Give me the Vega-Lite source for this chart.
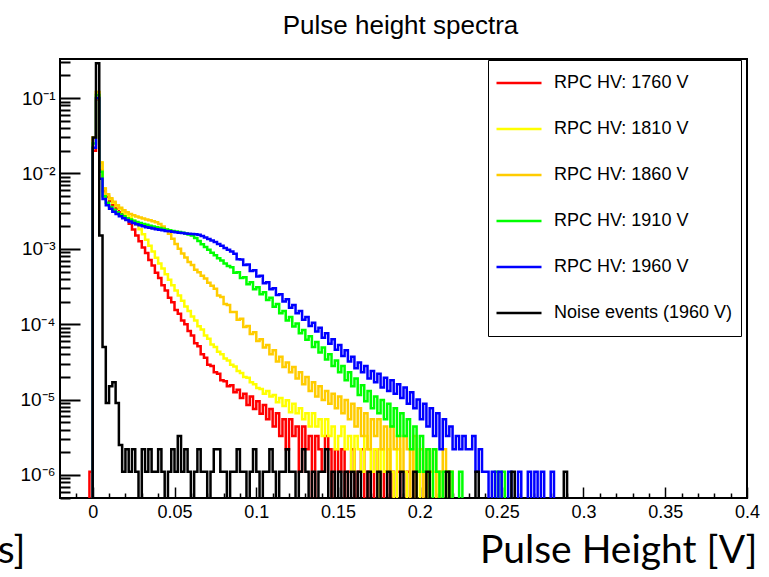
{
  "$schema": "https://vega.github.io/schema/vega-lite/v6.json",
  "autosize": {"type": "none"},
  "width": 687,
  "height": 439,
  "padding": {"left": 60, "top": 59, "right": 22, "bottom": 79},
  "background": "white",
  "config": {
    "view": {"stroke": "black", "strokeWidth": 2},
    "font": "Liberation Sans"
  },
  "title": {"text": "Pulse height spectra", "font": "Liberation Sans", "fontSize": 26, "fontWeight": "normal", "color": "black", "offset": 20, "anchor": "middle", "dx": -3},
  "datasets": {
    "names": [
      {"k": "r", "series": "RPC HV: 1760 V"},
      {"k": "y", "series": "RPC HV: 1810 V"},
      {"k": "o", "series": "RPC HV: 1860 V"},
      {"k": "g", "series": "RPC HV: 1910 V"},
      {"k": "b", "series": "RPC HV: 1960 V"},
      {"k": "n", "series": "Noise events (1960 V)"}
    ],
    "spectra": [
      {"x": -0.003, "r": 1e-7, "y": 1e-7, "o": 1e-7, "g": 1e-7, "b": 1e-7, "n": 1e-7},
      {"x": -0.001, "r": 1.1e-6, "y": 1e-7, "o": 1e-7, "g": 1e-7, "b": 1e-7, "n": 1e-7},
      {"x": 0.001, "r": 0.02, "y": 0.03, "o": 0.03, "g": 0.025, "b": 0.022, "n": 0.03},
      {"x": 0.003, "r": 0.095, "y": 0.12, "o": 0.12, "g": 0.11, "b": 0.1, "n": 0.29},
      {"x": 0.005, "r": 0.011, "y": 0.014, "o": 0.014, "g": 0.0105, "b": 0.0085, "n": 0.0015},
      {"x": 0.007, "r": 5.8e-3, "y": 6.3e-3, "o": 6.3e-3, "g": 5e-3, "b": 4.6e-3, "n": 5e-5},
      {"x": 0.009, "r": 4.9e-3, "y": 5.2e-3, "o": 5.3e-3, "g": 4.1e-3, "b": 3.8e-3, "n": 9e-6},
      {"x": 0.011, "r": 4.3e-3, "y": 4.6e-3, "o": 4.7e-3, "g": 3.6e-3, "b": 3.4e-3, "n": 1.5e-5},
      {"x": 0.013, "r": 3.8e-3, "y": 4.1e-3, "o": 4.2e-3, "g": 3.3e-3, "b": 3.1e-3, "n": 1.7e-5},
      {"x": 0.015, "r": 3.4e-3, "y": 3.7e-3, "o": 3.8e-3, "g": 3.05e-3, "b": 2.9e-3, "n": 9e-6},
      {"x": 0.017, "r": 3.05e-3, "y": 3.4e-3, "o": 3.5e-3, "g": 2.85e-3, "b": 2.7e-3, "n": 2.5e-6},
      {"x": 0.019, "r": 2.75e-3, "y": 3.1e-3, "o": 3.25e-3, "g": 2.7e-3, "b": 2.55e-3, "n": 1.1e-6},
      {"x": 0.021, "r": 2.45e-3, "y": 2.85e-3, "o": 3.05e-3, "g": 2.55e-3, "b": 2.42e-3, "n": 2.2e-6},
      {"x": 0.023, "r": 2.15e-3, "y": 2.6e-3, "o": 2.9e-3, "g": 2.45e-3, "b": 2.3e-3, "n": 1.1e-6},
      {"x": 0.025, "r": 1.8e-3, "y": 2.35e-3, "o": 2.78e-3, "g": 2.35e-3, "b": 2.2e-3, "n": 2.2e-6},
      {"x": 0.027, "r": 1.5e-3, "y": 2.1e-3, "o": 2.68e-3, "g": 2.27e-3, "b": 2.12e-3, "n": 1.1e-6},
      {"x": 0.029, "r": 1.26e-3, "y": 1.82e-3, "o": 2.6e-3, "g": 2.2e-3, "b": 2.05e-3, "n": 1e-7},
      {"x": 0.031, "r": 1.04e-3, "y": 1.56e-3, "o": 2.52e-3, "g": 2.14e-3, "b": 1.99e-3, "n": 2.2e-6},
      {"x": 0.033, "r": 8.8e-4, "y": 1.32e-3, "o": 2.46e-3, "g": 2.08e-3, "b": 1.94e-3, "n": 1.1e-6},
      {"x": 0.035, "r": 7.1e-4, "y": 1.1e-3, "o": 2.4e-3, "g": 2.03e-3, "b": 1.9e-3, "n": 2.2e-6},
      {"x": 0.037, "r": 6e-4, "y": 9.2e-4, "o": 2.33e-3, "g": 1.98e-3, "b": 1.86e-3, "n": 1.1e-6},
      {"x": 0.039, "r": 4.8e-4, "y": 7.6e-4, "o": 2.25e-3, "g": 1.93e-3, "b": 1.82e-3, "n": 1.1e-6},
      {"x": 0.041, "r": 4.1e-4, "y": 6.4e-4, "o": 2.14e-3, "g": 1.89e-3, "b": 1.79e-3, "n": 2.2e-6},
      {"x": 0.043, "r": 3.3e-4, "y": 5.5e-4, "o": 1.98e-3, "g": 1.85e-3, "b": 1.76e-3, "n": 1.1e-6},
      {"x": 0.045, "r": 2.8e-4, "y": 4.6e-4, "o": 1.8e-3, "g": 1.81e-3, "b": 1.73e-3, "n": 1e-7},
      {"x": 0.047, "r": 2.25e-4, "y": 3.9e-4, "o": 1.58e-3, "g": 1.77e-3, "b": 1.71e-3, "n": 1.1e-6},
      {"x": 0.049, "r": 1.95e-4, "y": 3.3e-4, "o": 1.36e-3, "g": 1.73e-3, "b": 1.68e-3, "n": 2.2e-6},
      {"x": 0.051, "r": 1.55e-4, "y": 2.8e-4, "o": 1.16e-3, "g": 1.7e-3, "b": 1.66e-3, "n": 1.1e-6},
      {"x": 0.053, "r": 1.38e-4, "y": 2.4e-4, "o": 1e-3, "g": 1.67e-3, "b": 1.64e-3, "n": 3.3e-6},
      {"x": 0.055, "r": 1.12e-4, "y": 2.05e-4, "o": 8.7e-4, "g": 1.63e-3, "b": 1.62e-3, "n": 1.1e-6},
      {"x": 0.057, "r": 1e-4, "y": 1.72e-4, "o": 7.7e-4, "g": 1.6e-3, "b": 1.6e-3, "n": 2.2e-6},
      {"x": 0.059, "r": 8.1e-5, "y": 1.5e-4, "o": 6.7e-4, "g": 1.55e-3, "b": 1.59e-3, "n": 1.1e-6},
      {"x": 0.061, "r": 7.1e-5, "y": 1.27e-4, "o": 6.1e-4, "g": 1.5e-3, "b": 1.57e-3, "n": 1e-7},
      {"x": 0.063, "r": 5.6e-5, "y": 1.12e-4, "o": 5.3e-4, "g": 1.39e-3, "b": 1.56e-3, "n": 1.1e-6},
      {"x": 0.065, "r": 5.1e-5, "y": 9.4e-5, "o": 4.9e-4, "g": 1.27e-3, "b": 1.54e-3, "n": 2.2e-6},
      {"x": 0.067, "r": 4e-5, "y": 8.5e-5, "o": 4.4e-4, "g": 1.15e-3, "b": 1.48e-3, "n": 1.1e-6},
      {"x": 0.069, "r": 3.6e-5, "y": 7.1e-5, "o": 4.05e-4, "g": 1.06e-3, "b": 1.41e-3, "n": 1.1e-6},
      {"x": 0.071, "r": 2.9e-5, "y": 6.4e-5, "o": 3.55e-4, "g": 9.7e-4, "b": 1.35e-3, "n": 1e-7},
      {"x": 0.073, "r": 2.8e-5, "y": 5.4e-5, "o": 3.25e-4, "g": 8.9e-4, "b": 1.29e-3, "n": 1.1e-6},
      {"x": 0.075, "r": 2.3e-5, "y": 5e-5, "o": 2.95e-4, "g": 8.2e-4, "b": 1.23e-3, "n": 2.2e-6},
      {"x": 0.077, "r": 2.2e-5, "y": 4.3e-5, "o": 2.4e-4, "g": 7.5e-4, "b": 1.16e-3, "n": 2.2e-6},
      {"x": 0.079, "r": 1.8e-5, "y": 4e-5, "o": 2.3e-4, "g": 7e-4, "b": 1.1e-3, "n": 1.1e-6},
      {"x": 0.081, "r": 1.75e-5, "y": 3.5e-5, "o": 1.85e-4, "g": 6.4e-4, "b": 1.03e-3, "n": 1.1e-6},
      {"x": 0.083, "r": 1.5e-5, "y": 3.3e-5, "o": 1.8e-4, "g": 5.9e-4, "b": 9.7e-4, "n": 1e-7},
      {"x": 0.085, "r": 1.55e-5, "y": 2.9e-5, "o": 1.45e-4, "g": 5.7e-4, "b": 9.2e-4, "n": 1.1e-6},
      {"x": 0.087, "r": 1.25e-5, "y": 2.75e-5, "o": 1.45e-4, "g": 4.8e-4, "b": 8.6e-4, "n": 1.1e-6},
      {"x": 0.089, "r": 1.35e-5, "y": 2.4e-5, "o": 1.15e-4, "g": 4.9e-4, "b": 7.3e-4, "n": 2.2e-6},
      {"x": 0.091, "r": 1.05e-5, "y": 2.25e-5, "o": 1.18e-4, "g": 4.1e-4, "b": 7.2e-4, "n": 1.1e-6},
      {"x": 0.093, "r": 1.2e-5, "y": 2e-5, "o": 9.2e-5, "g": 4.2e-4, "b": 6.1e-4, "n": 1.1e-6},
      {"x": 0.095, "r": 8.5e-6, "y": 1.95e-5, "o": 9.5e-5, "g": 3.4e-4, "b": 6.2e-4, "n": 1e-7},
      {"x": 0.097, "r": 1.1e-5, "y": 1.7e-5, "o": 7.4e-5, "g": 3.6e-4, "b": 5.1e-4, "n": 1.1e-6},
      {"x": 0.099, "r": 7.5e-6, "y": 1.6e-5, "o": 7.8e-5, "g": 2.9e-4, "b": 5.2e-4, "n": 2.2e-6},
      {"x": 0.101, "r": 9.5e-6, "y": 1.42e-5, "o": 6e-5, "g": 3.1e-4, "b": 4.3e-4, "n": 1.1e-6},
      {"x": 0.103, "r": 6.5e-6, "y": 1.38e-5, "o": 6.3e-5, "g": 2.5e-4, "b": 4.4e-4, "n": 1e-7},
      {"x": 0.105, "r": 8.5e-6, "y": 1.2e-5, "o": 4.9e-5, "g": 2.65e-4, "b": 3.5e-4, "n": 1.1e-6},
      {"x": 0.107, "r": 5.5e-6, "y": 1.3e-5, "o": 5.3e-5, "g": 2.1e-4, "b": 3.6e-4, "n": 1.1e-6},
      {"x": 0.109, "r": 7.5e-6, "y": 1.1e-5, "o": 4e-5, "g": 2.25e-4, "b": 2.9e-4, "n": 2.2e-6},
      {"x": 0.111, "r": 4.4e-6, "y": 1.15e-5, "o": 4.5e-5, "g": 1.7e-4, "b": 3e-4, "n": 1.1e-6},
      {"x": 0.113, "r": 6.6e-6, "y": 9.2e-6, "o": 3.2e-5, "g": 1.85e-4, "b": 2.45e-4, "n": 1e-7},
      {"x": 0.115, "r": 3.3e-6, "y": 1.05e-5, "o": 3.7e-5, "g": 1.4e-4, "b": 2.5e-4, "n": 1.1e-6},
      {"x": 0.117, "r": 5.5e-6, "y": 8.2e-6, "o": 2.7e-5, "g": 1.5e-4, "b": 2e-4, "n": 1.1e-6},
      {"x": 0.119, "r": 2.2e-6, "y": 9.8e-6, "o": 3.1e-5, "g": 1.12e-4, "b": 2.15e-4, "n": 2.2e-6},
      {"x": 0.121, "r": 5.5e-6, "y": 6.8e-6, "o": 2.3e-5, "g": 1.25e-4, "b": 1.65e-4, "n": 1.1e-6},
      {"x": 0.123, "r": 3.3e-6, "y": 8.8e-6, "o": 2.7e-5, "g": 9.3e-5, "b": 1.8e-4, "n": 1.1e-6},
      {"x": 0.125, "r": 4.4e-6, "y": 6.6e-6, "o": 1.9e-5, "g": 1.02e-4, "b": 1.4e-4, "n": 1e-7},
      {"x": 0.127, "r": 1.1e-6, "y": 7.7e-6, "o": 2.3e-5, "g": 7.6e-5, "b": 1.5e-4, "n": 1.1e-6},
      {"x": 0.129, "r": 4.4e-6, "y": 5.5e-6, "o": 1.6e-5, "g": 8.4e-5, "b": 1.15e-4, "n": 2.2e-6},
      {"x": 0.131, "r": 2.2e-6, "y": 6.6e-6, "o": 2e-5, "g": 6.2e-5, "b": 1.25e-4, "n": 1.1e-6},
      {"x": 0.133, "r": 3.3e-6, "y": 4.4e-6, "o": 1.3e-5, "g": 6.9e-5, "b": 9.5e-5, "n": 1e-7},
      {"x": 0.135, "r": 1e-7, "y": 6.6e-6, "o": 1.7e-5, "g": 5e-5, "b": 1.05e-4, "n": 1.1e-6},
      {"x": 0.137, "r": 3.3e-6, "y": 4.4e-6, "o": 1.1e-5, "g": 5.8e-5, "b": 8e-5, "n": 1e-7},
      {"x": 0.139, "r": 2.2e-6, "y": 5.5e-6, "o": 1.5e-5, "g": 4.2e-5, "b": 9e-5, "n": 1.1e-6},
      {"x": 0.141, "r": 1.1e-6, "y": 3.3e-6, "o": 9.9e-6, "g": 4.9e-5, "b": 6.6e-5, "n": 1.1e-6},
      {"x": 0.143, "r": 3.3e-6, "y": 5.5e-6, "o": 1.3e-5, "g": 3.4e-5, "b": 7.6e-5, "n": 2.2e-6},
      {"x": 0.145, "r": 2.2e-6, "y": 3.3e-6, "o": 8.8e-6, "g": 4e-5, "b": 5.5e-5, "n": 1e-7},
      {"x": 0.147, "r": 1e-7, "y": 4.4e-6, "o": 1.2e-5, "g": 2.8e-5, "b": 6.3e-5, "n": 1.1e-6},
      {"x": 0.149, "r": 2.2e-6, "y": 2.2e-6, "o": 7.7e-6, "g": 3.3e-5, "b": 4.6e-5, "n": 1e-7},
      {"x": 0.151, "r": 1.1e-6, "y": 3.3e-6, "o": 1.1e-5, "g": 2.3e-5, "b": 5.3e-5, "n": 1.1e-6},
      {"x": 0.153, "r": 2.2e-6, "y": 4.4e-6, "o": 6.6e-6, "g": 2.8e-5, "b": 3.8e-5, "n": 1e-7},
      {"x": 0.155, "r": 1e-7, "y": 2.2e-6, "o": 9.9e-6, "g": 1.8e-5, "b": 4.5e-5, "n": 1.1e-6},
      {"x": 0.157, "r": 1.1e-6, "y": 3.3e-6, "o": 5.5e-6, "g": 2.3e-5, "b": 3.2e-5, "n": 1e-7},
      {"x": 0.159, "r": 2.2e-6, "y": 1.1e-6, "o": 8.8e-6, "g": 1.5e-5, "b": 3.7e-5, "n": 1.1e-6},
      {"x": 0.161, "r": 1e-7, "y": 3.3e-6, "o": 4.4e-6, "g": 1.9e-5, "b": 2.6e-5, "n": 1e-7},
      {"x": 0.163, "r": 1.1e-6, "y": 2.2e-6, "o": 7.7e-6, "g": 1.15e-5, "b": 3.1e-5, "n": 1.1e-6},
      {"x": 0.165, "r": 2.2e-6, "y": 1.1e-6, "o": 3.3e-6, "g": 1.55e-5, "b": 2.3e-5, "n": 1e-7},
      {"x": 0.167, "r": 1e-7, "y": 3.3e-6, "o": 6.6e-6, "g": 9.5e-6, "b": 2.8e-5, "n": 1e-7},
      {"x": 0.169, "r": 1.1e-6, "y": 2.2e-6, "o": 2.2e-6, "g": 1.3e-5, "b": 1.9e-5, "n": 1.1e-6},
      {"x": 0.171, "r": 1e-7, "y": 1.1e-6, "o": 5.5e-6, "g": 7.7e-6, "b": 2.4e-5, "n": 1e-7},
      {"x": 0.173, "r": 2.2e-6, "y": 2.2e-6, "o": 3.3e-6, "g": 1.1e-5, "b": 1.7e-5, "n": 1e-7},
      {"x": 0.175, "r": 1.1e-6, "y": 1e-7, "o": 5.5e-6, "g": 6.6e-6, "b": 2.2e-5, "n": 1.1e-6},
      {"x": 0.177, "r": 1e-7, "y": 2.2e-6, "o": 2.2e-6, "g": 9.9e-6, "b": 1.45e-5, "n": 1e-7},
      {"x": 0.179, "r": 1.1e-6, "y": 1.1e-6, "o": 4.4e-6, "g": 5.5e-6, "b": 1.95e-5, "n": 1e-7},
      {"x": 0.181, "r": 1e-7, "y": 2.2e-6, "o": 1.1e-6, "g": 8.8e-6, "b": 1.3e-5, "n": 1.1e-6},
      {"x": 0.183, "r": 1.1e-6, "y": 1.1e-6, "o": 4.4e-6, "g": 4.4e-6, "b": 1.8e-5, "n": 1e-7},
      {"x": 0.185, "r": 1e-7, "y": 1e-7, "o": 2.2e-6, "g": 7.7e-6, "b": 1.2e-5, "n": 1e-7},
      {"x": 0.187, "r": 1.1e-6, "y": 2.2e-6, "o": 3.3e-6, "g": 3.3e-6, "b": 1.6e-5, "n": 1e-7},
      {"x": 0.189, "r": 1e-7, "y": 1.1e-6, "o": 1.1e-6, "g": 6.6e-6, "b": 1.05e-5, "n": 1.1e-6},
      {"x": 0.191, "r": 1e-7, "y": 1.1e-6, "o": 3.3e-6, "g": 3.3e-6, "b": 1.45e-5, "n": 1e-7},
      {"x": 0.193, "r": 1.1e-6, "y": 1e-7, "o": 2.2e-6, "g": 5.5e-6, "b": 8.8e-6, "n": 1e-7},
      {"x": 0.195, "r": 1e-7, "y": 2.2e-6, "o": 1e-7, "g": 2.2e-6, "b": 1.25e-5, "n": 1e-7},
      {"x": 0.197, "r": 1.1e-6, "y": 1.1e-6, "o": 3.3e-6, "g": 4.4e-6, "b": 7.7e-6, "n": 1.1e-6},
      {"x": 0.199, "r": 1e-7, "y": 1e-7, "o": 1.1e-6, "g": 1.1e-6, "b": 1e-5, "n": 1e-7},
      {"x": 0.201, "r": 1e-7, "y": 1.1e-6, "o": 2.2e-6, "g": 3.3e-6, "b": 5.5e-6, "n": 1e-7},
      {"x": 0.203, "r": 1.1e-6, "y": 1e-7, "o": 1e-7, "g": 1.1e-6, "b": 8.8e-6, "n": 1e-7},
      {"x": 0.205, "r": 1e-7, "y": 1.1e-6, "o": 2.2e-6, "g": 2.2e-6, "b": 4.4e-6, "n": 1.1e-6},
      {"x": 0.207, "r": 1e-7, "y": 1e-7, "o": 1.1e-6, "g": 1e-7, "b": 7.7e-6, "n": 1e-7},
      {"x": 0.209, "r": 1e-7, "y": 1.1e-6, "o": 2.2e-6, "g": 2.2e-6, "b": 3.3e-6, "n": 1e-7},
      {"x": 0.211, "r": 1e-7, "y": 1e-7, "o": 1e-7, "g": 1.1e-6, "b": 6.6e-6, "n": 1e-7},
      {"x": 0.213, "r": 1e-7, "y": 1.1e-6, "o": 1.1e-6, "g": 1e-7, "b": 2.2e-6, "n": 1e-7},
      {"x": 0.215, "r": 1e-7, "y": 1e-7, "o": 2.2e-6, "g": 1.1e-6, "b": 5.5e-6, "n": 1e-7},
      {"x": 0.217, "r": 1e-7, "y": 1.1e-6, "o": 1e-7, "g": 1e-7, "b": 3.3e-6, "n": 1.1e-6},
      {"x": 0.219, "r": 1e-7, "y": 1e-7, "o": 1.1e-6, "g": 1.1e-6, "b": 4.4e-6, "n": 1e-7},
      {"x": 0.221, "r": 1e-7, "y": 1e-7, "o": 1e-7, "g": 1e-7, "b": 2.2e-6, "n": 1e-7},
      {"x": 0.223, "r": 1e-7, "y": 1e-7, "o": 1e-7, "g": 1e-7, "b": 3.3e-6, "n": 1e-7},
      {"x": 0.225, "r": 1e-7, "y": 1e-7, "o": 1e-7, "g": 1.1e-6, "b": 2.2e-6, "n": 1e-7},
      {"x": 0.227, "r": 1e-7, "y": 1e-7, "o": 1e-7, "g": 1e-7, "b": 3.3e-6, "n": 1e-7},
      {"x": 0.229, "r": 1e-7, "y": 1e-7, "o": 1e-7, "g": 1e-7, "b": 2.2e-6, "n": 1e-7},
      {"x": 0.231, "r": 1e-7, "y": 1e-7, "o": 1e-7, "g": 1e-7, "b": 2.2e-6, "n": 1e-7},
      {"x": 0.233, "r": 1e-7, "y": 1e-7, "o": 1e-7, "g": 1e-7, "b": 3.3e-6, "n": 1e-7},
      {"x": 0.235, "r": 1e-7, "y": 1e-7, "o": 1e-7, "g": 1e-7, "b": 1.1e-6, "n": 1.1e-6},
      {"x": 0.237, "r": 1e-7, "y": 1e-7, "o": 1e-7, "g": 1e-7, "b": 2.2e-6, "n": 1e-7},
      {"x": 0.239, "r": 1e-7, "y": 1e-7, "o": 1e-7, "g": 1e-7, "b": 1.1e-6, "n": 1e-7},
      {"x": 0.241, "r": 1e-7, "y": 1e-7, "o": 1e-7, "g": 1e-7, "b": 1.1e-6, "n": 1e-7},
      {"x": 0.243, "r": 1e-7, "y": 1e-7, "o": 1e-7, "g": 1e-7, "b": 1e-7, "n": 1e-7},
      {"x": 0.245, "r": 1e-7, "y": 1e-7, "o": 1e-7, "g": 1e-7, "b": 1.1e-6, "n": 1e-7},
      {"x": 0.247, "r": 1e-7, "y": 1e-7, "o": 1e-7, "g": 1.1e-6, "b": 1e-7, "n": 1e-7},
      {"x": 0.249, "r": 1e-7, "y": 1e-7, "o": 1e-7, "g": 1e-7, "b": 1.1e-6, "n": 1e-7},
      {"x": 0.251, "r": 1e-7, "y": 1e-7, "o": 1e-7, "g": 1.1e-6, "b": 1e-7, "n": 1e-7},
      {"x": 0.253, "r": 1e-7, "y": 1e-7, "o": 1e-7, "g": 1e-7, "b": 1e-7, "n": 1e-7},
      {"x": 0.255, "r": 1e-7, "y": 1e-7, "o": 1e-7, "g": 1e-7, "b": 1.1e-6, "n": 1e-7},
      {"x": 0.257, "r": 1e-7, "y": 1e-7, "o": 1e-7, "g": 1e-7, "b": 1e-7, "n": 1.1e-6},
      {"x": 0.259, "r": 1e-7, "y": 1e-7, "o": 1e-7, "g": 1e-7, "b": 1e-7, "n": 1e-7},
      {"x": 0.261, "r": 1e-7, "y": 1e-7, "o": 1e-7, "g": 1e-7, "b": 1.1e-6, "n": 1e-7},
      {"x": 0.263, "r": 1e-7, "y": 1e-7, "o": 1e-7, "g": 1e-7, "b": 1e-7, "n": 1e-7},
      {"x": 0.265, "r": 1e-7, "y": 1e-7, "o": 1e-7, "g": 1e-7, "b": 1e-7, "n": 1e-7},
      {"x": 0.267, "r": 1e-7, "y": 1e-7, "o": 1e-7, "g": 1e-7, "b": 1.1e-6, "n": 1e-7},
      {"x": 0.269, "r": 1e-7, "y": 1e-7, "o": 1e-7, "g": 1e-7, "b": 1e-7, "n": 1e-7},
      {"x": 0.271, "r": 1e-7, "y": 1e-7, "o": 1e-7, "g": 1e-7, "b": 1.1e-6, "n": 1e-7},
      {"x": 0.273, "r": 1e-7, "y": 1e-7, "o": 1e-7, "g": 1e-7, "b": 1e-7, "n": 1e-7},
      {"x": 0.275, "r": 1e-7, "y": 1e-7, "o": 1e-7, "g": 1e-7, "b": 1.1e-6, "n": 1e-7},
      {"x": 0.277, "r": 1e-7, "y": 1e-7, "o": 1e-7, "g": 1e-7, "b": 1e-7, "n": 1e-7},
      {"x": 0.279, "r": 1e-7, "y": 1e-7, "o": 1e-7, "g": 1e-7, "b": 1e-7, "n": 1e-7},
      {"x": 0.281, "r": 1e-7, "y": 1e-7, "o": 1e-7, "g": 1e-7, "b": 1.1e-6, "n": 1e-7},
      {"x": 0.283, "r": 1e-7, "y": 1e-7, "o": 1e-7, "g": 1e-7, "b": 1e-7, "n": 1e-7},
      {"x": 0.285, "r": 1e-7, "y": 1e-7, "o": 1e-7, "g": 1e-7, "b": 1e-7, "n": 1e-7},
      {"x": 0.287, "r": 1e-7, "y": 1e-7, "o": 1e-7, "g": 1e-7, "b": 1e-7, "n": 1e-7},
      {"x": 0.289, "r": 1e-7, "y": 1e-7, "o": 1e-7, "g": 1e-7, "b": 1e-7, "n": 1.1e-6},
      {"x": 0.291, "r": 1e-7, "y": 1e-7, "o": 1e-7, "g": 1e-7, "b": 1e-7, "n": 1e-7}
    ]
  },
  "data": {"name": "spectra"},
  "transform": [
    {"fold": ["r", "y", "o", "g", "b", "n"], "as": ["k", "v"]},
    {"lookup": "k", "from": {"data": {"name": "names"}, "key": "k", "fields": ["series"]}}
  ],
  "resolve": {"axis": {"x": "independent", "y": "independent"}},
  "layer": [
    {
      "transform": [{"filter": "datum.k != 'n'"}],
      "mark": {"type": "line", "interpolate": "step", "strokeWidth": 2.5, "clip": true},
      "encoding": {
        "x": {"field": "x", "type": "quantitative",
          "scale": {"domain": [-0.02, 0.4], "nice": false, "zero": false},
          "axis": {"orient": "bottom", "values": [0, 0.05, 0.1, 0.15, 0.2, 0.25, 0.3, 0.35, 0.4], "format": "~g",
            "domain": false, "grid": false, "tickSize": -11, "tickWidth": 1.5, "tickColor": "black",
            "labelPadding": 16, "labelFontSize": 18, "labelFont": "Liberation Sans", "labelColor": "black", "labelFlush": false, "labelOverlap": false,
            "title": "Pulse Height [V]", "titleFont": "Lato", "titleFontSize": 39, "titleFontWeight": "normal", "titleColor": "black",
            "titleAlign": "right", "titleBaseline": "alphabetic", "titleX": 697, "titleY": 64, "titleAnchor": null}},
        "y": {"field": "v", "type": "quantitative",
          "scale": {"type": "log", "domain": [4.95e-7, 0.33], "nice": false},
          "axis": {"orient": "left", "values": [1e-6, 1e-5, 1e-4, 1e-3, 1e-2, 1e-1],
            "labelExpr": "'10⁻' + ['⁰','¹','²','³','⁴','⁵','⁶','⁷'][round(-log(datum.value)/LN10)]",
            "domain": false, "grid": false, "tickSize": -20, "tickWidth": 2, "tickColor": "black",
            "labelPadding": 25, "labelFontSize": 19, "labelFont": "Liberation Sans", "labelColor": "black", "labelOverlap": false, "labelFlush": false,
            "title": null}},
        "color": {"field": "series", "type": "nominal",
          "scale": {"domain": ["RPC HV: 1760 V", "RPC HV: 1810 V", "RPC HV: 1860 V", "RPC HV: 1910 V", "RPC HV: 1960 V", "Noise events (1960 V)"],
            "range": ["#ff0000", "#ffff00", "#ffcc00", "#00ff00", "#0000ff", "#000000"]},
          "legend": {"orient": "none", "legendX": 428, "legendY": 1, "title": null,
            "symbolType": "stroke", "symbolSize": 2025, "symbolStrokeWidth": 2.5,
            "labelFontSize": 18, "labelFont": "Liberation Sans", "labelColor": "black", "labelLimit": 400,
            "labelOffset": 11, "symbolOffset": -1, "padding": 8, "rowPadding": 16, "clipHeight": 30,
            "strokeColor": "black", "fillColor": "white"}}
      }
    },
    {
      "transform": [{"filter": "datum.k == 'n'"}],
      "mark": {"type": "line", "interpolate": "step", "strokeWidth": 2.5, "clip": true},
      "encoding": {
        "x": {"field": "x", "type": "quantitative",
          "scale": {"domain": [-0.02, 0.4], "nice": false, "zero": false},
          "axis": {"orient": "bottom", "values": [-0.01, 0.01, 0.02, 0.03, 0.04, 0.06, 0.07, 0.08, 0.09, 0.11, 0.12, 0.13, 0.14, 0.16, 0.17, 0.18, 0.19, 0.21, 0.22, 0.23, 0.24, 0.26, 0.27, 0.28, 0.29, 0.31, 0.32, 0.33, 0.34, 0.36, 0.37, 0.38, 0.39],
            "domain": false, "grid": false, "labels": false, "tickSize": -5, "tickWidth": 1.5, "tickColor": "black",
            "title": "s]", "titleFont": "Lato", "titleFontSize": 39, "titleFontWeight": "normal", "titleColor": "black",
            "titleAlign": "right", "titleBaseline": "alphabetic", "titleX": -35, "titleY": 64, "titleAnchor": null}},
        "y": {"field": "v", "type": "quantitative",
          "scale": {"type": "log", "domain": [4.95e-7, 0.33], "nice": false},
          "axis": {"orient": "left", "values": [5e-7, 6e-7, 7e-7, 8e-7, 9e-7, 2e-6, 3e-6, 4e-6, 5e-6, 6e-6, 7e-6, 8e-6, 9e-6, 2e-5, 3e-5, 4e-5, 5e-5, 6e-5, 7e-5, 8e-5, 9e-5, 2e-4, 3e-4, 4e-4, 5e-4, 6e-4, 7e-4, 8e-4, 9e-4, 2e-3, 3e-3, 4e-3, 5e-3, 6e-3, 7e-3, 8e-3, 9e-3, 0.02, 0.03, 0.04, 0.05, 0.06, 0.07, 0.08, 0.09, 0.2, 0.3],
            "domain": false, "grid": false, "labels": false, "tickSize": -10, "tickWidth": 2, "tickColor": "black", "title": null}},
        "color": {"field": "series", "type": "nominal",
          "scale": {"domain": ["RPC HV: 1760 V", "RPC HV: 1810 V", "RPC HV: 1860 V", "RPC HV: 1910 V", "RPC HV: 1960 V", "Noise events (1960 V)"],
            "range": ["#ff0000", "#ffff00", "#ffcc00", "#00ff00", "#0000ff", "#000000"]},
          "legend": {"orient": "none", "legendX": 428, "legendY": 1, "title": null,
            "symbolType": "stroke", "symbolSize": 2025, "symbolStrokeWidth": 2.5,
            "labelFontSize": 18, "labelFont": "Liberation Sans", "labelColor": "black", "labelLimit": 400,
            "labelOffset": 11, "symbolOffset": -1, "padding": 8, "rowPadding": 16, "clipHeight": 30,
            "strokeColor": "black", "fillColor": "white"}}
      }
    }
  ]
}
